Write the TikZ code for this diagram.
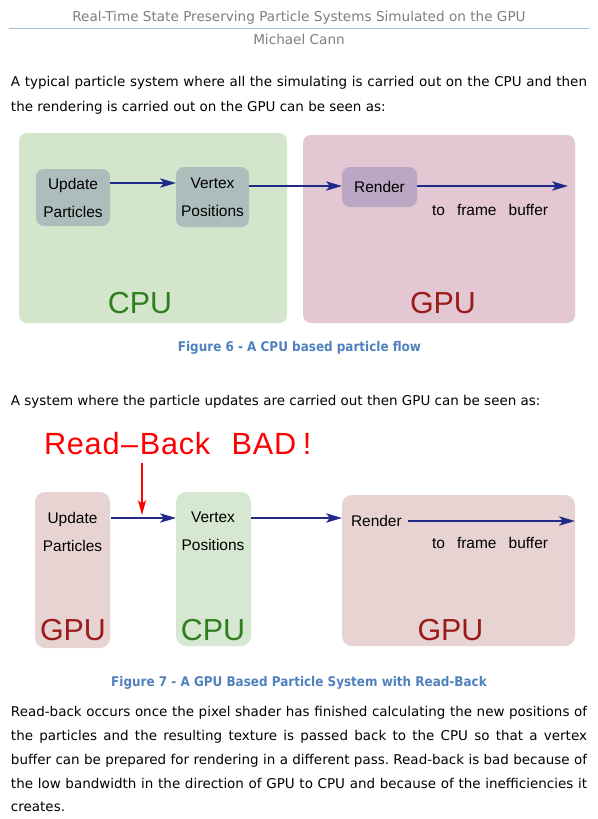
\documentclass[tikz,border=0pt]{standalone}
\usepackage{fontspec}
\usetikzlibrary{arrows.meta}
\newfontfamily\bodyfont{DejaVu Sans}
\newfontfamily\capfont{DejaVu Sans Condensed}
\newfontfamily\labfont{Liberation Sans}
\frenchspacing
\definecolor{cpugreen}{HTML}{D3E6CC}
\definecolor{gpupink}{HTML}{E3C8D3}
\definecolor{stepgray}{HTML}{ADBDBC}
\definecolor{rendpurple}{HTML}{BBA7C3}
\definecolor{gpupinkb}{HTML}{E8D3D3}
\definecolor{cpugreenb}{HTML}{D6E8D1}
\definecolor{cputext}{HTML}{2E7D1E}
\definecolor{gputext}{HTML}{9B1B1B}
\definecolor{navy}{HTML}{1F2A8B}
\definecolor{capblue}{HTML}{4F81BD}
\definecolor{headgray}{HTML}{7F7F7F}
\definecolor{rulecol}{HTML}{A4BCDF}
\begin{document}
\begin{tikzpicture}[x=0.75pt,y=-0.75pt,
  every node/.style={inner sep=0pt,outer sep=0pt},
  head/.style={anchor=base,font=\bodyfont\fontsize{10.2}{12}\selectfont,text=headgray},
  body/.style={anchor=base west,font=\bodyfont\fontsize{10.1}{12}\selectfont,text=black},
  caption/.style={anchor=base,font=\capfont\bfseries\fontsize{10}{12}\selectfont,text=capblue},
  region/.style={rounded corners=6pt,anchor=north west},
  stepbox/.style={fill=stepgray,rounded corners=6pt,align=center,
     font=\labfont\fontsize{11.6}{21}\selectfont,anchor=north west},
  lab/.style={anchor=base,font=\labfont\fontsize{11.6}{14}\selectfont},
  big/.style={anchor=base,font=\labfont\fontsize{22.8}{26}\selectfont},
  flow/.style={draw=navy,line width=1.5pt,-{Stealth[length=12pt,width=7pt,inset=3pt]}},
  warn/.style={draw=red,line width=1pt,-{Stealth[length=11pt,width=6pt,inset=2.5pt]}}]
\useasboundingbox (0,0) rectangle (598,819);
\fill[white] (0,0) rectangle (598,819);
% header
\node[head] (title) at (299,21.7) {Real-Time State Preserving Particle Systems Simulated on the GPU};
\coordinate (rl) at (9,28.5);
\coordinate (rr) at (589,28.5);
\draw[rulecol,line width=0.9pt] (rl) -- (rr);
\node[head] (author) at (299,44.5) {Michael Cann};
% intro text
\node[body] (p1a) at (11,86) {\makebox[432pt][s]{A typical particle system where all the simulating is carried out on the CPU and then}};
\node[body] (p1b) at (11,111) {the rendering is carried out on the GPU can be seen as:};
% figure 6
\node[region,fill=cpugreen,minimum width=201pt,minimum height=142.5pt] (cpu6) at (19,133) {};
\node[region,fill=gpupink,minimum width=204pt,minimum height=141pt] (gpu6) at (303,135) {};
\node[stepbox,minimum width=55.5pt,minimum height=42.75pt] (upd6) at (36,169) {Update\\Particles};
\node[stepbox,minimum width=54.75pt,minimum height=45pt] (vtx6) at (176,167) {Vertex\\Positions};
\node[stepbox,fill=rendpurple,minimum width=56.25pt,minimum height=30pt] (rnd6) at (342,167) {Render};
\coordinate (fb6) at (568,186);
\draw[flow] (upd6.east |- 0,183) -- (vtx6.west |- 0,183);
\draw[flow] (vtx6.east |- 0,186) -- (rnd6.west |- 0,186);
\draw[flow] (rnd6.east |- fb6) -- (fb6);
\node[lab,anchor=base west] (tfb6) at (432,215) {\makebox[87pt][s]{to frame buffer}};
\node[big,text=cputext] (cpul6) at (140,313.3) {CPU};
\node[big,text=gputext] (gpul6) at (443,313.3) {GPU};
\node[caption] (cap6) at (299.5,351.7) {Figure 6 - A CPU based particle flow};
% text
\node[body] (p2) at (11,405) {A system where the particle updates are carried out then GPU can be seen as:};
% figure 7
\node[anchor=base west,text=red,font=\labfont\fontsize{23}{26}\selectfont] (bad) at (44,454.5)
  {\addfontfeature{LetterSpace=2.5}Read\kern1.2pt\textendash\kern1.2ptBack\hspace{16pt}BAD\kern5pt!};
\node[region,fill=gpupinkb,rounded corners=7.5pt,minimum width=56.25pt,minimum height=117pt] (gpuA) at (35,492) {};
\node[region,fill=cpugreenb,rounded corners=7.5pt,minimum width=56.25pt,minimum height=115.5pt] (cpuB) at (176,492) {};
\node[region,fill=gpupinkb,rounded corners=7.5pt,minimum width=174.75pt,minimum height=113.25pt] (gpuC) at (342,495) {};
\node[lab] (upd7a) at (72.5,523.3) {Update};
\node[lab] (upd7b) at (72.5,551.7) {Particles};
\node[lab] (vtx7a) at (213,522.3) {Vertex};
\node[lab] (vtx7b) at (213,550.7) {Positions};
\node[lab,anchor=base west] (rnd7) at (351,526) {Render};
\node[lab,anchor=base west] (tfb7) at (432,548.3) {\makebox[87pt][s]{to frame buffer}};
\node[big,text=gputext] (gpul7a) at (73,640.7) {GPU};
\node[big,text=cputext] (cpul7) at (213,640.7) {CPU};
\node[big,text=gputext] (gpul7c) at (450.5,640.7) {GPU};
\coordinate (rbtop) at (142,463);
\coordinate (rbtip) at (142,515);
\draw[warn] (rbtop) -- (rbtip);
\draw[flow] (gpuA.east |- 0,518) ++(1,0) -- (cpuB.west |- 0,518);
\draw[flow] (cpuB.east |- 0,518) -- (gpuC.west |- 0,518);
\draw[flow] (rnd7.east |- 0,521) ++(6,0) -- (gpuC.east |- 0,521);
\node[caption] (cap7) at (299,686.7) {Figure 7 - A GPU Based Particle System with Read-Back};
% final paragraph
\node[body] (p3a) at (11,716) {\makebox[432pt][s]{Read-back occurs once the pixel shader has finished calculating the new positions of}};
\node[body] (p3b) at (11,740) {\makebox[432pt][s]{the particles and the resulting texture is passed back to the CPU so that a vertex}};
\node[body] (p3c) at (11,764.3) {\makebox[432pt][s]{buffer can be prepared for rendering in a different pass. Read-back is bad because of}};
\node[body] (p3d) at (11,788.5) {\makebox[432pt][s]{the low bandwidth in the direction of GPU to CPU and because of the inefficiencies it}};
\node[body] (p3e) at (11,811) {creates.};
\end{tikzpicture}
\end{document}
